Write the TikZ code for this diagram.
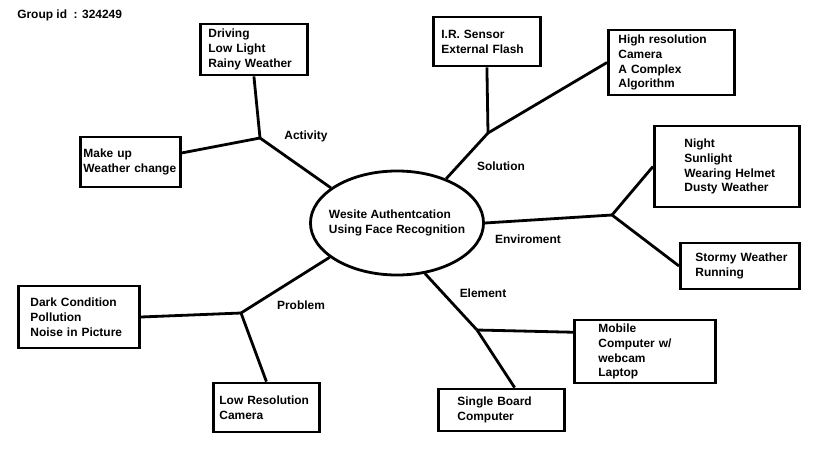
\documentclass[tikz,border=0pt]{standalone}
\usepackage{fontspec}
\setmainfont{Liberation Sans}
\usetikzlibrary{shapes.geometric}

\begin{document}
\begin{tikzpicture}
    [
        x=0.025cm, y=-0.025cm,
        font=\fontsize{8.5}{10.6}\selectfont\bfseries,
        box_node/.style={rectangle, draw=black, line width=0.7mm, anchor=west, align=left, inner ysep=0pt, execute at begin node={\hyphenpenalty=10000}},
        core_node/.style={ellipse, draw=black, line width=0.7mm, minimum width=4.325cm, minimum height=2.6cm, inner sep=-5mm, align=left},
        tag_node/.style={inner sep=0pt},
        branch/.style={line width=0.7mm, color=black},
    ]
        \useasboundingbox (0,0) rectangle (819,460) ;
        \node[tag_node, anchor=west] (group) at (17,15) {Group id\ \ : 324249} ;
        \node[core_node] (core) at (397,223) {Wesite Authentcation\\Using Face Recognition} ;

        \node[box_node, inner xsep=0.2cm, text width=2.275cm, minimum height=1.275cm] (drive) at (199,49.5) {Driving\\Low Light\\Rainy~Weather} ;
        \node[box_node, inner xsep=0.075cm, text width=2.35cm, minimum height=1.25cm] (makeup) at (79,162) {Make up\\Weather~change} ;
        \node[box_node, inner xsep=0.2cm, text width=2.275cm, minimum height=1.225cm] (irsensor) at (432,41.5) {I.R. Sensor\\External~Flash} ;
        \node[box_node, inner xsep=0.25cm, text width=2.65cm, minimum height=1.625cm] (highres) at (607,62.5) {High resolution\\Camera\\A Complex\\Algorithm} ;
        \node[box_node, inner xsep=0.75cm, text width=2.125cm, minimum height=2.025cm] (night) at (653,166.5) {Night\\Sunlight\\Wearing~Helmet\\Dusty~Weather} ;
        \node[box_node, inner xsep=0.375cm, text width=2.225cm, minimum height=1.15cm] (stormy) at (679,266) {Stormy~Weather\\Running} ;
        \node[box_node, inner xsep=0.6cm, text width=2.325cm, minimum height=1.575cm] (mobile) at (573,351.5) {Mobile\\Computer w/\\webcam\\Laptop} ;
        \node[box_node, inner xsep=0.475cm, text width=2.2cm, minimum height=1.05cm] (single) at (437,410) {Single~Board\\Computer} ;
        \node[box_node, inner xsep=0.3cm, text width=2.425cm, minimum height=1.55cm] (dark) at (17,317) {Dark Condition\\Pollution\\Noise~in~Picture} ;
        \node[box_node, inner xsep=0.15cm, text width=2.35cm, minimum height=1.225cm] (lowres) at (212,407.5) {Low~Resolution\\Camera} ;

        \node[tag_node] (activity) at (306,136) {Activity} ;
        \node[tag_node] (solution) at (501,166) {Solution} ;
        \node[tag_node] (enviroment) at (528,239) {Enviroment} ;
        \node[tag_node] (element) at (483,293) {Element} ;
        \node[tag_node] (problem) at (301,305) {Problem} ;

        \coordinate (act_hub) at (260,138) ;
        \coordinate (sol_hub) at (488,133) ;
        \coordinate (env_hub) at (612,215) ;
        \coordinate (elem_hub) at (477,330) ;
        \coordinate (prob_hub) at (241,313) ;

        \draw[branch] (core.152) -- (act_hub) ;
        \draw[branch] (act_hub) -- (drive.south) ;
        \draw[branch] (act_hub) -- (makeup.10) ;
        \draw[branch] (core.42) -- (sol_hub) ;
        \draw[branch] (sol_hub) -- (irsensor.south) ;
        \draw[branch] (sol_hub) -- (highres.west) ;
        \draw[branch] (core.east) -- (env_hub) ;
        \draw[branch] (env_hub) -- (night.west) ;
        \draw[branch] (env_hub) -- (stormy.west) ;
        \draw[branch] (core.299) -- (elem_hub) ;
        \draw[branch] (elem_hub) -- ([xshift=0.33cm]single.north) ;
        \draw[branch] (elem_hub) -- (mobile.165) ;
        \draw[branch] (core.207) -- (prob_hub) ;
        \draw[branch] (prob_hub) -- (dark.east) ;
        \draw[branch] (prob_hub) -- (lowres.north) ;
    \end{tikzpicture}
\end{document}
